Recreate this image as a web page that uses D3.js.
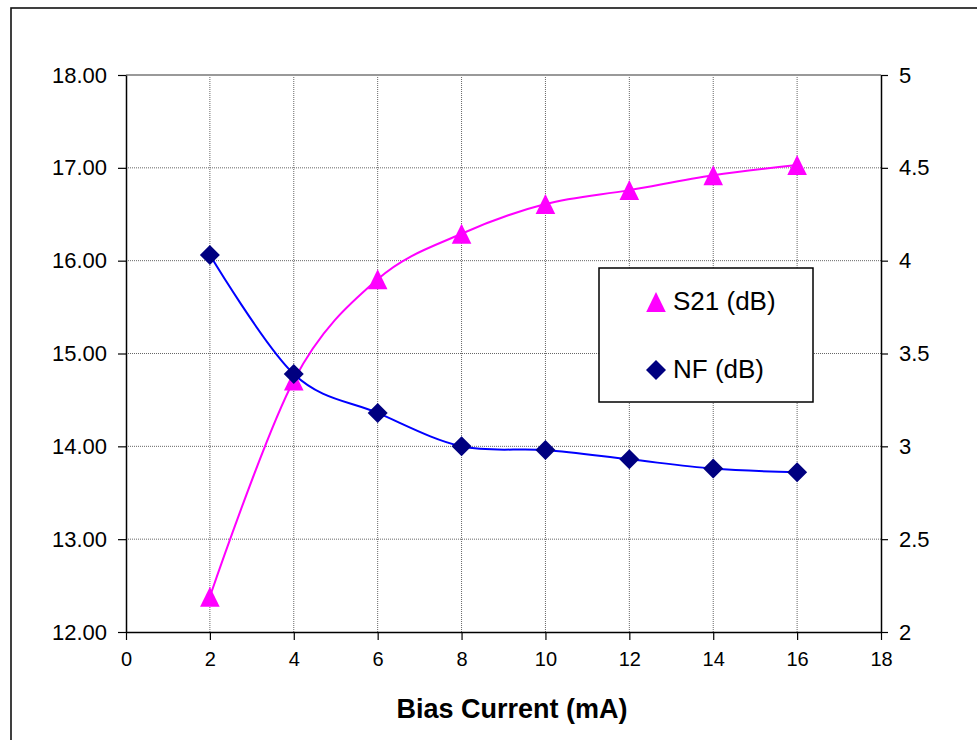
<!DOCTYPE html>
<html>
<head>
<meta charset="utf-8">
<script src="https://cdn.jsdelivr.net/npm/d3@7"></script>
<style>
  html, body { margin: 0; padding: 0; background: #fff; }
  svg { display: block; font-family: "Liberation Sans", Arial, sans-serif; }
</style>
</head>
<body>
<svg id="chart" width="977" height="740"></svg>
<script>
// Bias current sweep (mA)
const biasCurrent = [2, 4, 6, 8, 10, 12, 14, 16];
// Gain S21 (dB), left axis
const s21 = [12.38, 14.71, 15.80, 16.29, 16.61, 16.76, 16.92, 17.03];
// Noise figure (dB), right axis
const nf = [4.03, 3.39, 3.18, 3.00, 2.98, 2.93, 2.88, 2.86];

const xTicks = [0, 2, 4, 6, 8, 10, 12, 14, 16, 18];
const leftTicks = [12, 13, 14, 15, 16, 17, 18];
const rightTicks = [2, 2.5, 3, 3.5, 4, 4.5, 5];

const svg = d3.select("#chart");
const plot = { left: 126, right: 881, top: 75, bottom: 632 };

const x = d3.scaleLinear().domain([0, 18]).range([plot.left, plot.right]);
const yL = d3.scaleLinear().domain([12, 18]).range([plot.bottom, plot.top]);
const yR = d3.scaleLinear().domain([2, 5]).range([plot.bottom, plot.top]);

// Outer chart frame
svg.append("rect")
  .attr("x", 11).attr("y", 8).attr("width", 1000).attr("height", 800)
  .attr("fill", "none").attr("stroke", "#111").attr("stroke-width", 1.6);

// Gridlines
const grid = svg.append("g");
grid.selectAll("line.h").data(leftTicks.filter(d => d > 12)).join("line")
  .attr("x1", plot.left).attr("x2", plot.right)
  .attr("y1", d => yL(d)).attr("y2", d => yL(d))
  .attr("stroke", "#666").attr("stroke-width", 1)
  .attr("stroke-dasharray", "1,1");
grid.selectAll("line.v").data(xTicks.filter(d => d > 0 && d < 18)).join("line")
  .attr("x1", d => x(d)).attr("x2", d => x(d))
  .attr("y1", plot.top).attr("y2", plot.bottom)
  .attr("stroke", "#666").attr("stroke-width", 1)
  .attr("stroke-dasharray", "1,1");
// Top edge of the plot area
svg.append("line")
  .attr("x1", plot.left).attr("x2", plot.right)
  .attr("y1", plot.top).attr("y2", plot.top)
  .attr("stroke", "#999").attr("stroke-width", 2);

// Axes
function styleAxis(g) {
  g.selectAll(".domain").attr("stroke", "#000").attr("stroke-width", 1.5);
  g.selectAll(".tick line").attr("stroke", "#000").attr("stroke-width", 1.2);
  g.selectAll(".tick text").attr("fill", "#000");
}

const xAxis = svg.append("g")
  .attr("transform", `translate(0,${plot.bottom})`)
  .call(d3.axisBottom(x).tickValues(xTicks).tickFormat(d3.format("d"))
    .tickSizeInner(8).tickSizeOuter(0).tickPadding(12));
styleAxis(xAxis);
xAxis.selectAll(".tick text").attr("font-size", 20);

const leftAxis = svg.append("g")
  .attr("transform", `translate(${plot.left},0)`)
  .call(d3.axisLeft(yL).tickValues(leftTicks).tickFormat(d3.format(".2f"))
    .tickSizeInner(8).tickSizeOuter(0).tickPadding(11));
styleAxis(leftAxis);
leftAxis.selectAll(".tick text").attr("font-size", 22);

const rightAxis = svg.append("g")
  .attr("transform", `translate(${plot.right},0)`)
  .call(d3.axisRight(yR).tickValues(rightTicks).tickFormat(d => String(d))
    .tickSizeInner(7).tickSizeOuter(0).tickPadding(11));
styleAxis(rightAxis);
rightAxis.selectAll(".tick text").attr("font-size", 22);

// X axis title
svg.append("text")
  .attr("x", 512).attr("y", 718)
  .attr("text-anchor", "middle")
  .attr("font-size", 27).attr("font-weight", "bold")
  .text("Bias Current (mA)");

// Smoothed series lines
const curve = d3.curveCatmullRom.alpha(0);
const s21Line = d3.line().x((d, i) => x(biasCurrent[i])).y(d => yL(d)).curve(curve);
const nfLine = d3.line().x((d, i) => x(biasCurrent[i])).y(d => yR(d)).curve(curve);

svg.append("path").attr("d", s21Line(s21))
  .attr("fill", "none").attr("stroke", "#ff00ff").attr("stroke-width", 2);
svg.append("path").attr("d", nfLine(nf))
  .attr("fill", "none").attr("stroke", "#0000ff").attr("stroke-width", 2);

// Marker shapes, centred on their bounding box
const triPath = "M0,-10L9.8,10L-9.8,10Z";
const diaPath = "M0,-10L10,0L0,10L-10,0Z";

svg.append("g").selectAll("path").data(s21).join("path")
  .attr("d", triPath)
  .attr("transform", (d, i) => `translate(${x(biasCurrent[i])},${yL(d)})`)
  .attr("fill", "#ff00ff");

svg.append("g").selectAll("path").data(nf).join("path")
  .attr("d", diaPath)
  .attr("transform", (d, i) => `translate(${x(biasCurrent[i])},${yR(d)})`)
  .attr("fill", "#000080");

// Legend
const legend = svg.append("g");
legend.append("rect")
  .attr("x", 599).attr("y", 268).attr("width", 214).attr("height", 134)
  .attr("fill", "#fff").attr("stroke", "#000").attr("stroke-width", 1.5);
legend.append("path").attr("d", triPath)
  .attr("transform", "translate(656,302)").attr("fill", "#ff00ff");
legend.append("path").attr("d", diaPath)
  .attr("transform", "translate(656,370)").attr("fill", "#000080");
legend.append("text").attr("x", 673).attr("y", 310)
  .attr("font-size", 26).text("S21 (dB)");
legend.append("text").attr("x", 673).attr("y", 378)
  .attr("font-size", 26).text("NF (dB)");
</script>
</body>
</html>
